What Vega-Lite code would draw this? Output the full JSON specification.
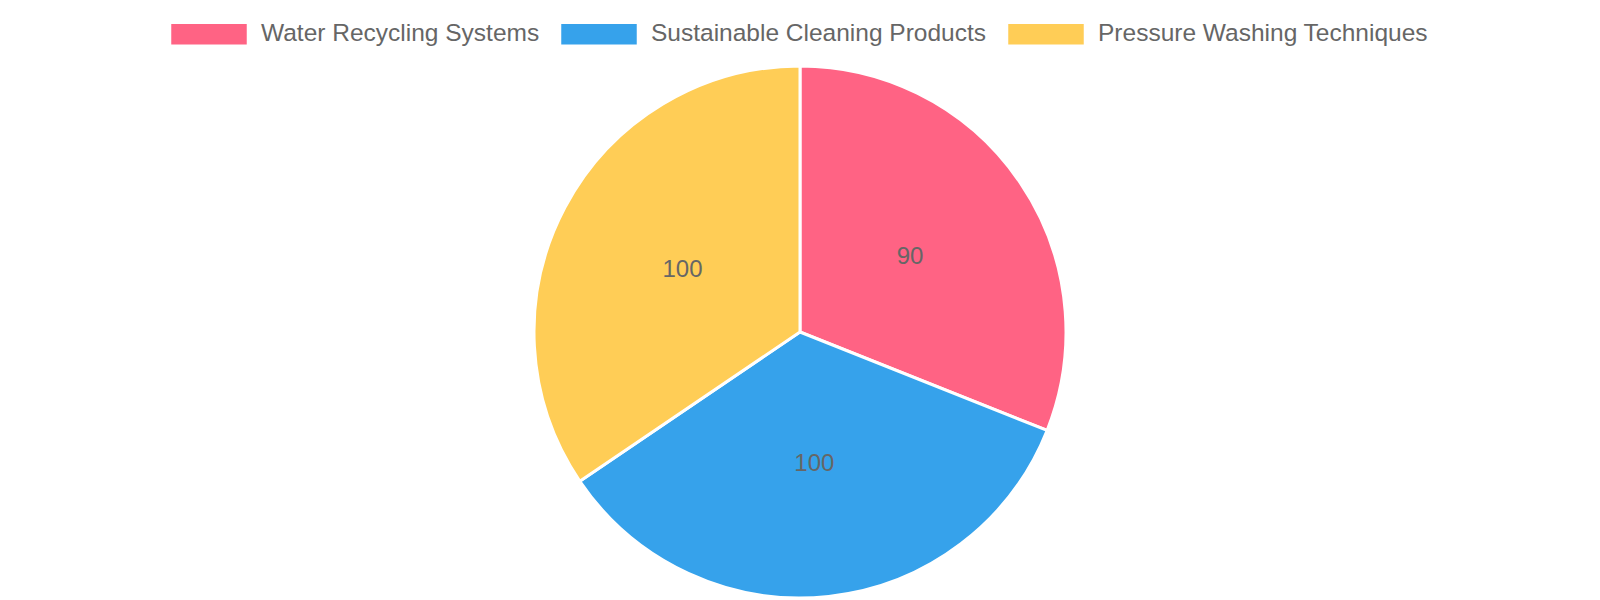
{
  "$schema": "https://vega.github.io/schema/vega-lite/v6.json",
  "width": 1600,
  "height": 536,
  "autosize": "none",
  "padding": {"left": 0, "top": 64, "right": 0, "bottom": 0},
  "background": "white",
  "config": {"view": {"stroke": null}, "font": "Liberation Sans"},
  "data": {
    "values": [
      {"category": "Water Recycling Systems", "value": 90, "idx": 1},
      {"category": "Sustainable Cleaning Products", "value": 100, "idx": 2},
      {"category": "Pressure Washing Techniques", "value": 100, "idx": 3}
    ]
  },
  "encoding": {
    "theta": {"field": "value", "type": "quantitative", "stack": true},
    "order": {"field": "idx", "type": "quantitative"},
    "color": {
      "field": "category",
      "type": "nominal",
      "scale": {
        "domain": ["Water Recycling Systems", "Sustainable Cleaning Products", "Pressure Washing Techniques"],
        "range": ["#FF6384", "#36A2EB", "#FFCD56"]
      },
      "legend": {
        "title": null,
        "orient": "none",
        "direction": "horizontal",
        "legendX": 171,
        "legendY": -68,
        "padding": 0,
        "offset": 0,
        "symbolType": "M-1,-0.27L1,-0.27L1,0.27L-1,0.27Z",
        "symbolSize": 5700,
        "symbolStrokeWidth": 0,
        "symbolOpacity": 1,
        "labelOffset": 14,
        "columnPadding": 21,
        "labelFont": "Liberation Sans",
        "labelFontSize": 24.5,
        "labelColor": "#666666",
        "labelLimit": 1000
      }
    }
  },
  "layer": [
    {
      "mark": {"type": "arc", "outerRadius": 266, "stroke": "white", "strokeWidth": 3}
    },
    {
      "mark": {"type": "text", "radius": 133, "fontSize": 24, "font": "Liberation Sans"},
      "encoding": {
        "text": {"field": "value", "type": "quantitative"},
        "color": {"value": "#666666"}
      }
    }
  ]
}
